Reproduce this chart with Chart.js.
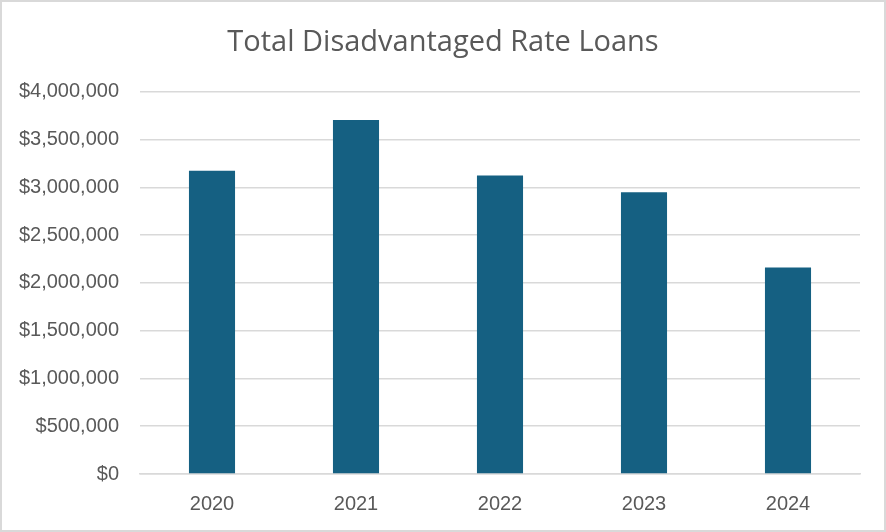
<!DOCTYPE html>
<html>
<head>
<meta charset="utf-8">
<script src="https://cdn.jsdelivr.net/npm/chart.js@4/dist/chart.umd.min.js"></script>
<style>
html,body{margin:0;padding:0;background:#fff;}
#wrap{width:886px;height:532px;position:relative;}
</style>
</head>
<body>
<div id="wrap"><canvas id="c" width="886" height="532"></canvas></div>
<script>
const categories = ["2020", "2021", "2022", "2023", "2024"];
const loanTotals = [3175000, 3705000, 3125000, 2950000, 2160000];
const yTickValues = [0, 500000, 1000000, 1500000, 2000000, 2500000, 3000000, 3500000, 4000000];
const chartTitle = "Total Disadvantaged Rate Loans";

const borderPlugin = {
  id: 'outerBorder',
  afterDraw(chart) {
    const ctx = chart.ctx;
    ctx.save();
    ctx.strokeStyle = '#d9d9d9';
    ctx.lineWidth = 2;
    ctx.strokeRect(1, 1, chart.width - 2, chart.height - 2);
    ctx.restore();
  }
};

new Chart(document.getElementById('c'), {
  type: 'bar',
  data: {
    labels: categories,
    datasets: [{
      data: loanTotals,
      backgroundColor: '#156082',
      borderWidth: 0,
      categoryPercentage: 1,
      barPercentage: 0.32,
      yAxisID: 'y'
    }]
  },
  options: {
    responsive: false,
    animation: false,
    layout: { padding: 0 },
    plugins: {
      legend: { display: false },
      tooltip: { enabled: false },
      title: {
        display: true,
        text: chartTitle,
        color: '#595959',
        font: { family: "'Open Sans', sans-serif", size: 29, weight: 'normal' },
        padding: { top: 25, bottom: 32 }
      }
    },
    scales: {
      x: {
        grid: { display: false, drawTicks: false },
        border: { display: true, color: '#d9d9d9', width: 1.5 },
        ticks: { color: '#595959', font: { family: "'Liberation Sans', Arial, sans-serif", size: 20 }, padding: 18 },
        afterFit(scale) { scale.height = 58; }
      },
      y: {
        min: 0,
        max: 4000000,
        afterBuildTicks(scale) { scale.ticks = yTickValues.map(v => ({ value: v })); },
        grid: { color: '#d9d9d9', lineWidth: 1.5, drawTicks: false },
        border: { display: false },
        ticks: {
          color: '#595959',
          font: { family: "'Liberation Sans', Arial, sans-serif", size: 20 },
          padding: 21,
          callback: v => '$' + Number(v).toLocaleString('en-US')
        },
        afterFit(scale) { scale.width = 140; }
      },
      yRight: {
        position: 'right',
        min: 0,
        max: 4000000,
        grid: { display: false, drawTicks: false },
        border: { display: false },
        ticks: { display: false },
        afterFit(scale) { scale.width = 26; }
      }
    }
  },
  plugins: [borderPlugin]
});
</script>
</body>
</html>
